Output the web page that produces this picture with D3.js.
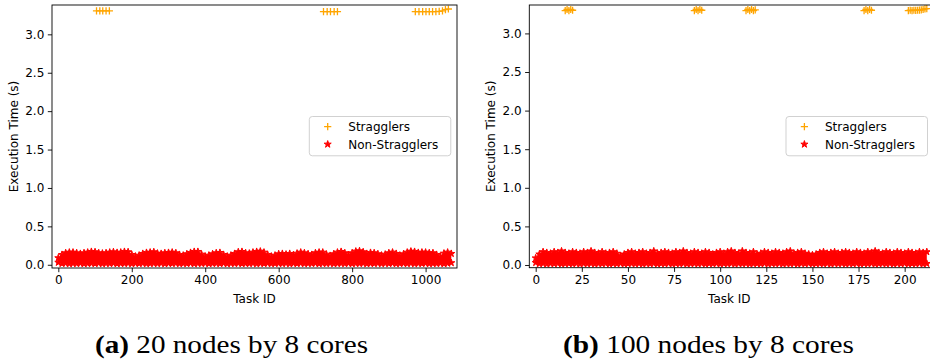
<!DOCTYPE html>
<html><head><meta charset="utf-8">
<script src="https://cdn.jsdelivr.net/npm/d3@7"></script>
<style>body{margin:0;background:#fff}svg{display:block;background:#fff}</style>
</head><body><svg id="c" width="930" height="360"></svg>
<script>
// ---------------- data ----------------
const yTicks = [0, 0.5, 1.0, 1.5, 2.0, 2.5, 3.0];
const leftXTicks = [0, 200, 400, 600, 800, 1000];
const rightXTicks = [0, 25, 50, 75, 100, 125, 150, 175, 200];
const legendLabels = ["Stragglers", "Non-Stragglers"];
const xLabel = "Task ID";
const yLabel = "Execution Time (s)";
const captionTags = ["(a)", "(b)"];
const captionTexts = [" 20 nodes by 8 cores", " 100 nodes by 8 cores"];

// Stragglers (a)
const leftStragglerTasks = [104, 113, 121, 130, 139, 722, 732, 741, 751, 760,
  972, 982, 992, 1001, 1010, 1019, 1028, 1037, 1046, 1054, 1062];
const leftStragglerTimes = [3.305, 3.305, 3.305, 3.305, 3.305, 3.296, 3.296, 3.296, 3.296, 3.296,
  3.296, 3.296, 3.296, 3.296, 3.296, 3.296, 3.296, 3.300, 3.305, 3.322, 3.330];

// Stragglers (b)
const rightStragglerTasks = [16, 17, 18, 19, 20, 86, 87, 88, 89, 90,
  114, 115, 116, 117, 118, 119, 178, 179, 180, 181, 182,
  202, 203, 204, 205, 206, 207, 208, 209, 210, 211, 212];
const rightStragglerTimes = [3.295, 3.310, 3.295, 3.310, 3.300, 3.295, 3.310, 3.295, 3.310, 3.300,
  3.295, 3.310, 3.295, 3.310, 3.295, 3.305, 3.295, 3.310, 3.295, 3.310, 3.300,
  3.295, 3.300, 3.295, 3.300, 3.298, 3.300, 3.302, 3.305, 3.310, 3.318, 3.322];

// Non-stragglers (a): sampled every 10 task IDs, upper and lower envelope of the cloud
const leftSampleStep = 10;
const leftHighTime = [0.089,0.132,0.154,0.162,0.162,0.154,0.145,0.154,0.162,0.171,
  0.167,0.154,0.149,0.154,0.162,0.167,0.158,0.162,0.171,0.167,
  0.132,0.110,0.123,0.145,0.158,0.162,0.167,0.149,0.145,0.154,
  0.158,0.162,0.154,0.132,0.123,0.141,0.158,0.171,0.171,0.136,
  0.110,0.123,0.141,0.154,0.158,0.132,0.110,0.123,0.145,0.167,
  0.171,0.154,0.149,0.162,0.171,0.175,0.162,0.132,0.110,0.123,
  0.141,0.145,0.136,0.145,0.128,0.149,0.162,0.154,0.141,0.132,
  0.154,0.162,0.162,0.136,0.119,0.141,0.162,0.171,0.154,0.128,
  0.154,0.175,0.180,0.167,0.145,0.158,0.154,0.141,0.123,0.136,
  0.154,0.162,0.145,0.123,0.141,0.162,0.175,0.171,0.158,0.162,
  0.162,0.154,0.154,0.132,0.110,0.149,0.162,0.145];
const leftLowTime = [0.030,0.015,0.020,0.012,0.018,0.015,0.020,0.012,0.016,0.018,
  0.014,0.020,0.012,0.018,0.015,0.020,0.013,0.017,0.015,0.020,
  0.012,0.018,0.015,0.020,0.013,0.016,0.018,0.014,0.020,0.012,
  0.018,0.015,0.020,0.013,0.017,0.015,0.020,0.012,0.018,0.015,
  0.020,0.013,0.016,0.018,0.014,0.020,0.012,0.018,0.015,0.020,
  0.013,0.017,0.015,0.020,0.012,0.018,0.015,0.020,0.013,0.016,
  0.018,0.014,0.020,0.012,0.018,0.015,0.020,0.013,0.017,0.015,
  0.020,0.012,0.018,0.015,0.020,0.013,0.016,0.018,0.014,0.020,
  0.012,0.018,0.015,0.020,0.013,0.017,0.015,0.020,0.012,0.018,
  0.015,0.020,0.013,0.016,0.018,0.014,0.020,0.012,0.018,0.015,
  0.020,0.013,0.017,0.015,0.020,0.012,0.018,0.025];

// Non-stragglers (b): sampled every 2 task IDs
const rightSampleStep = 2;
const rightHighTime = [0.09,0.14,0.17,0.16,0.15,0.17,0.16,0.18,0.16,0.15,
  0.17,0.16,0.15,0.17,0.16,0.18,0.16,0.15,0.17,0.15,
  0.16,0.17,0.15,0.12,0.14,0.16,0.17,0.15,0.16,0.17,
  0.15,0.16,0.18,0.15,0.16,0.17,0.16,0.15,0.17,0.16,
  0.18,0.16,0.15,0.17,0.16,0.15,0.17,0.16,0.14,0.16,
  0.17,0.15,0.17,0.18,0.16,0.15,0.18,0.16,0.15,0.17,
  0.14,0.15,0.17,0.16,0.15,0.17,0.16,0.15,0.17,0.18,
  0.15,0.16,0.17,0.15,0.14,0.13,0.14,0.16,0.17,0.15,
  0.16,0.17,0.15,0.16,0.17,0.16,0.15,0.17,0.16,0.15,
  0.17,0.16,0.18,0.16,0.15,0.17,0.16,0.15,0.17,0.16,
  0.15,0.17,0.16,0.15,0.17,0.16,0.17];
const rightLowTime = [0.030,0.015,0.020,0.012,0.018,0.015,0.020,0.012,0.016,0.018,
  0.014,0.020,0.012,0.018,0.015,0.020,0.013,0.017,0.015,0.020,
  0.012,0.018,0.015,0.020,0.013,0.016,0.018,0.014,0.020,0.012,
  0.018,0.015,0.020,0.013,0.017,0.015,0.020,0.012,0.018,0.015,
  0.020,0.013,0.016,0.018,0.014,0.020,0.012,0.018,0.015,0.020,
  0.013,0.017,0.015,0.020,0.012,0.018,0.015,0.020,0.013,0.016,
  0.018,0.014,0.020,0.012,0.018,0.015,0.020,0.013,0.017,0.015,
  0.020,0.012,0.018,0.015,0.020,0.013,0.016,0.018,0.014,0.020,
  0.012,0.018,0.015,0.020,0.013,0.017,0.015,0.020,0.012,0.018,
  0.015,0.020,0.013,0.016,0.018,0.014,0.020,0.012,0.018,0.015,
  0.020,0.013,0.017,0.015,0.020,0.012,0.018];

// ---------------- drawing ----------------
const svg = d3.select("#c");
const FONT = "DejaVu Sans, sans-serif";
const ORANGE = "#ffa500", RED = "#ff0000";

const panels = [
  { id: "a", left: 52, right: 457, top: 5, bottom: 268,
    xDom: [-17.2, 1085.5], yDom: [-0.042, 3.382], xTicks: leftXTicks,
    sTasks: leftStragglerTasks, sTimes: leftStragglerTimes,
    step: leftSampleStep, high: leftHighTime, low: leftLowTime,
    legendX: 309.3, labelX: 17.5, capX: 95, capW: 273 },
  { id: "b", left: 529.3, right: 934, top: 5, bottom: 267.7,
    xDom: [-3.47, 215.9], yDom: [-0.035, 3.368], xTicks: rightXTicks,
    sTasks: rightStragglerTasks, sTimes: rightStragglerTimes,
    step: rightSampleStep, high: rightHighTime, low: rightLowTime,
    legendX: 786, labelX: 494.8, capX: 563, capW: 291 }
];

const starPath = d3.symbol(d3.symbolStar, 15.5)();
const plusPath = "M-3.6,0H3.6M0,-3.6V3.6";

panels.forEach((p, pi) => {
  const x = d3.scaleLinear().domain(p.xDom).range([p.left, p.right]);
  const y = d3.scaleLinear().domain(p.yDom).range([p.bottom, p.top]);
  const g = svg.append("g");

  const clipId = "clip" + p.id;
  svg.append("clipPath").attr("id", clipId).append("rect")
    .attr("x", p.left).attr("y", p.top)
    .attr("width", p.right - p.left).attr("height", p.bottom - p.top);
  const plot = g.append("g").attr("clip-path", `url(#${clipId})`);

  // stragglers
  plot.selectAll("path.s").data(p.sTasks).join("path").attr("class", "s")
    .attr("d", plusPath)
    .attr("transform", (d, i) => `translate(${x(d)},${y(p.sTimes[i])})`)
    .attr("stroke", ORANGE).attr("stroke-width", 1.3).attr("fill", "none");

  // non-stragglers: cloud band
  const samples = p.high.map((h, i) => ({ t: i * p.step, h: h, l: p.low[i] }));
  plot.append("path").datum(samples)
    .attr("d", d3.area().x(d => x(d.t)).y0(d => y(d.l)).y1(d => y(d.h)))
    .attr("fill", RED);
  plot.selectAll("path.hi").data(samples).join("path").attr("class", "hi")
    .attr("d", starPath)
    .attr("transform", d => `translate(${x(d.t)},${y(d.h)})`)
    .attr("fill", RED).attr("stroke", RED).attr("stroke-width", 1);
  plot.selectAll("path.lo").data(samples).join("path").attr("class", "lo")
    .attr("d", starPath)
    .attr("transform", d => `translate(${x(d.t)},${y(d.l)})`)
    .attr("fill", RED).attr("stroke", RED).attr("stroke-width", 1);

  // axes
  const xAxis = d3.axisBottom(x).tickValues(p.xTicks).tickSize(4.2).tickPadding(3.5)
    .tickFormat(d3.format("d"));
  const gx = g.append("g").attr("transform", `translate(0,${p.bottom})`).call(xAxis);
  const yAxis = d3.axisLeft(y).tickValues(yTicks).tickSize(4.2).tickPadding(3.5)
    .tickFormat(d3.format(".1f"));
  const gy = g.append("g").attr("transform", `translate(${p.left},0)`).call(yAxis);
  [gx, gy].forEach(a => {
    a.select(".domain").remove();
    a.selectAll(".tick line").attr("stroke", "#000").attr("stroke-width", 0.9);
    a.selectAll(".tick text").attr("fill", "#000").style("font-family", FONT).style("font-size", "12px");
  });

  // spines
  g.append("rect").attr("x", p.left).attr("y", p.top)
    .attr("width", p.right - p.left).attr("height", p.bottom - p.top)
    .attr("fill", "none").attr("stroke", "#000").attr("stroke-width", 0.9);

  // axis labels
  g.append("text").attr("x", (p.left + p.right) / 2 - (pi === 1 ? 2.3 : 0)).attr("y", 302.5)
    .attr("text-anchor", "middle").style("font-family", FONT).style("font-size", "12px")
    .text(xLabel);
  g.append("text").attr("transform", `translate(${p.labelX},${(p.top + p.bottom) / 2}) rotate(-90)`)
    .attr("text-anchor", "middle").style("font-family", FONT).style("font-size", "12px")
    .text(yLabel);

  // legend
  const lg = g.append("g").attr("transform", `translate(${p.legendX},116.5)`);
  lg.append("rect").attr("x", 0).attr("y", 0).attr("width", 141.5).attr("height", 39.3)
    .attr("rx", 3).attr("fill", "#fff").attr("fill-opacity", 0.8)
    .attr("stroke", "#cccccc").attr("stroke-width", 0.9);
  legendLabels.forEach((lab, i) => {
    const cy = 10.2 + i * 17.6;
    if (i === 0) {
      lg.append("path").attr("d", plusPath).attr("transform", `translate(18.4,${cy})`)
        .attr("stroke", ORANGE).attr("stroke-width", 1.3).attr("fill", "none");
    } else {
      lg.append("path").attr("d", starPath).attr("transform", `translate(18.4,${cy})`)
        .attr("fill", RED).attr("stroke", RED).attr("stroke-width", 1);
    }
    lg.append("text").attr("x", 39).attr("y", cy + 4.3)
      .style("font-family", FONT).style("font-size", "12px").text(lab);
  });

  // caption
  const cap = svg.append("text").attr("x", p.capX).attr("y", 353)
    .attr("textLength", p.capW).attr("lengthAdjust", "spacingAndGlyphs")
    .style("font-family", "Liberation Serif, serif").style("font-size", "25px").attr("fill", "#000");
  cap.append("tspan").attr("font-weight", "bold").text(captionTags[pi]);
  cap.append("tspan").text(captionTexts[pi]);
});
</script>
</body></html>
